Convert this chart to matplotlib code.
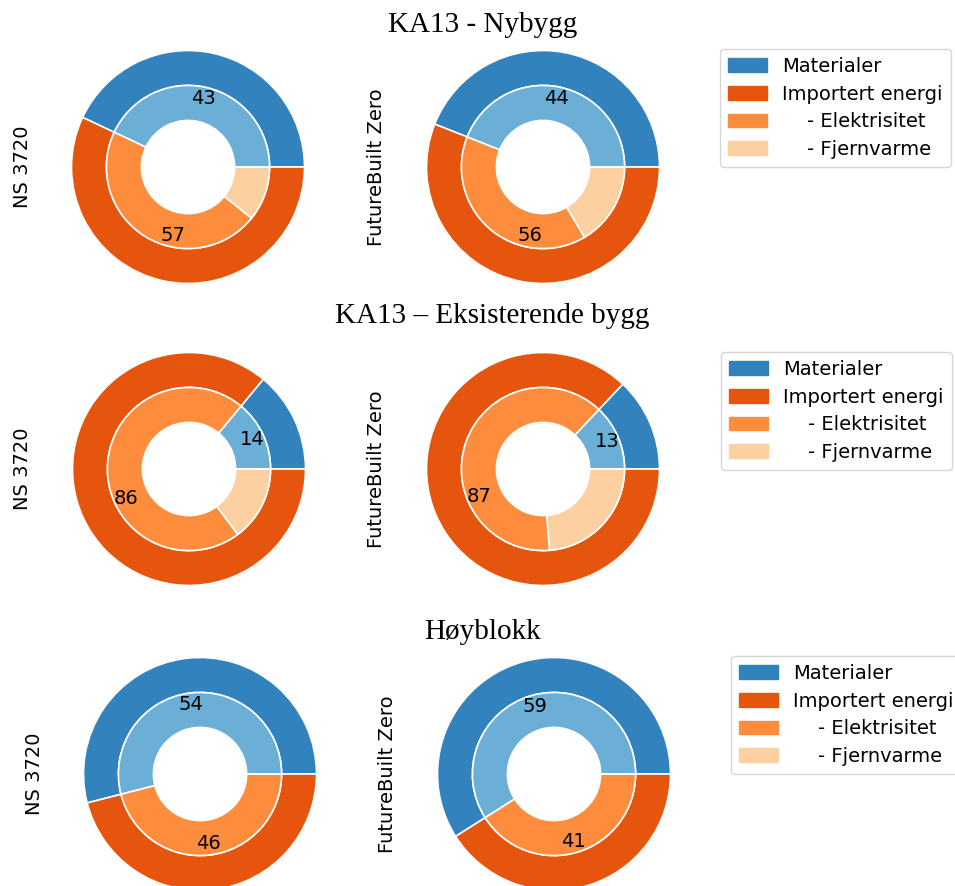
import matplotlib.pyplot as plt
import matplotlib.patches as mpatches

# -------------------------------------------------
#  Data (andel av klimagassutslipp, %)
# -------------------------------------------------
titles = ["KA13 - Nybygg", "KA13 – Eksisterende bygg", "Høyblokk"]
methods = ["NS 3720", "FutureBuilt Zero"]
legend_labels = ["Materialer", "Importert energi",
                 "    - Elektrisitet", "    - Fjernvarme"]

# ytre ring: Materialer, Importert energi
outer_vals = [
    [[43, 57], [44, 56]],
    [[14, 86], [13, 87]],
    [[54, 46], [59, 41]],
]
# indre ring: Materialer, Elektrisitet, Fjernvarme
inner_vals = [
    [[43, 46.2, 10.8], [44, 39.5, 16.5]],
    [[14, 71.2, 14.8], [13, 63.3, 23.7]],
    [[54, 46, 0], [59, 41, 0]],
]

outer_colors = ["#3182bd", "#e6550d"]
inner_colors = ["#6baed6", "#fd8d3c", "#fdd0a2"]

# -------------------------------------------------
#  Layout (pixel positions in a 955x886 figure)
# -------------------------------------------------
W, H = 955, 886
R = 116.5          # pie radius in px
L = 1.1            # axis limit
FS = 14
centers = [[(188, 167), (543, 167)],
           [(189, 469), (543, 469)],
           [(200, 774), (554, 774)]]
title_pos = [(483, 25), (492, 316), (482, 632)]
ylab_x = [(23, 376), (23, 376), (34, 387)]
legend_pos = [(720, 49), (721, 352), (731, 656)]

plt.rcParams['font.family'] = 'DejaVu Sans'
fig = plt.figure(figsize=(W / 100, H / 100), dpi=100)

for r in range(3):
    for c in range(2):
        cx, cy = centers[r][c]
        side = 2 * R * L
        ax = fig.add_axes([(cx - R * L) / W, 1 - (cy + R * L) / H, side / W, side / H])
        ax.pie(outer_vals[r][c], radius=1, colors=outer_colors, startangle=0,
               autopct='%.0f', pctdistance=0.6,
               textprops=dict(fontsize=FS, color='black'),
               wedgeprops=dict(width=0.3, edgecolor='w', linewidth=1.2))
        ax.pie(inner_vals[r][c], radius=0.7, colors=inner_colors, startangle=0,
               wedgeprops=dict(width=0.3, edgecolor='w', linewidth=1.2))
        # tallene skal ligge over den indre ringen
        for t in ax.texts:
            t.set_zorder(10)
        ax.set_xlim(-L, L)
        ax.set_ylim(-L, L)
        ax.set_aspect('equal')
        fig.text(ylab_x[r][c] / W, 1 - cy / H, methods[c], rotation=90,
                 ha='center', va='center', fontsize=FS)

    fig.text(title_pos[r][0] / W, 1 - title_pos[r][1] / H, titles[r],
             ha='center', va='center', fontsize=21, family='Liberation Serif')

    handles = [mpatches.Patch(color=col) for col in outer_colors + inner_colors[1:]]
    lx, ly = legend_pos[r]
    fig.legend(handles, legend_labels, loc='upper left',
               bbox_to_anchor=(lx / W, 1 - ly / H), bbox_transform=fig.transFigure,
               borderaxespad=0, fontsize=FS, labelspacing=0.45)

fig.savefig("out.png", dpi=100)
